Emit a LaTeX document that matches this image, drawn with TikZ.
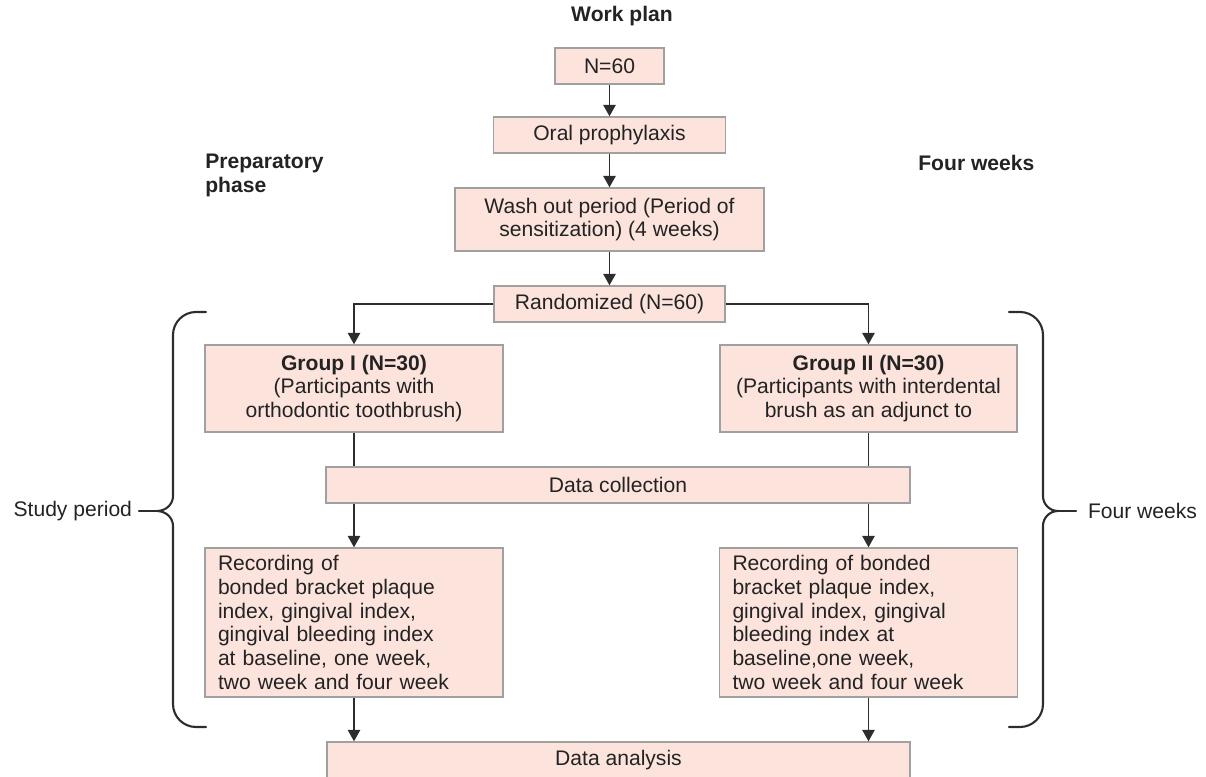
\documentclass[tikz,border=0pt]{standalone}
\usepackage{fontspec}
\setmainfont{Liberation Sans}
\usepackage{tikz}
\usetikzlibrary{arrows.meta, positioning, calc}
\usepackage{xcolor}
\definecolor{BoxFill}{RGB}{252,228,221}
\definecolor{BoxLine}{RGB}{160,160,160}
\definecolor{LineGray}{RGB}{45,45,45}
\definecolor{TextGray}{RGB}{35,35,35}

\begin{document}
\begin{tikzpicture}[
  font=\fontsize{12}{13.6}\selectfont, text=TextGray,
  box/.style={draw=BoxLine, line width=0.8pt, fill=BoxFill, align=center, inner sep=0pt, minimum height=0.72cm},
  recbox/.style={draw=BoxLine, line width=0.8pt, fill=BoxFill, align=left, inner xsep=0.26cm, inner ysep=0.05cm, text width=5.44cm, minimum height=2.98cm},
  head/.style={font=\fontsize{12}{13.6}\selectfont\bfseries, align=left, inner sep=0pt},
  arr/.style={-{Triangle[length=2.3mm, width=2.5mm]}, line width=0.8pt, draw=LineGray},
  conn/.style={line width=0.8pt, draw=LineGray},
  brace/.style={line width=1.2pt, draw=LineGray, line cap=round}
]
  \useasboundingbox (0,0) rectangle (24.12,-15.52);

  % Headings
  \node[head] (title) at (12.44, -0.32) {Work plan};
  \node[head, anchor=west] (prep) at (4.1, -3.5) {Preparatory\\phase};
  \node[head, anchor=west] (fourtop) at (18.36, -3.26) {Four weeks};

  % Preparatory chain (centre column)
  \node[box, minimum width=2.18cm] (n60) at (12.19, -1.32) {N=60};
  \node[box, minimum width=4.64cm] (oral) at (12.19, -2.70) {Oral prophylaxis};
  \node[box, minimum width=6.18cm, minimum height=1.26cm] (wash) at (12.19, -4.39) {Wash out period (Period of\\sensitization) (4 weeks)};
  \node[box, minimum width=4.62cm] (rand) at (12.19, -6.08) {Randomized (N=60)};

  % Groups
  \node[box, minimum width=5.96cm, minimum height=1.74cm] (g1) at (7.08, -7.77) {\textbf{Group I (N=30)}\\(Participants with\\orthodontic toothbrush)};
  \node[box, minimum width=5.94cm, minimum height=1.74cm] (g2) at (17.37, -7.77) {\textbf{Group II (N=30)}\\(Participants with interdental\\brush as an adjunct to};

  \node[box, minimum width=11.68cm] (dcol) at (12.36, -9.70) {Data collection};

  % Recording
  \node[recbox] (rec1) at (7.08, -12.45) {Recording of\\bonded bracket plaque\\index, gingival index,\\gingival bleeding index\\at baseline, one week,\\two week and four week};
  \node[recbox] (rec2) at (17.37, -12.45) {Recording of bonded\\bracket plaque index,\\gingival index, gingival\\bleeding index at\\baseline,one week,\\two week and four week};

  \node[box, minimum width=11.66cm] (dana) at (12.37, -15.20) {Data analysis};

  \draw[arr] (n60) -- (oral);
  \draw[arr] (oral) -- (wash);
  \draw[arr] (wash) -- (rand);
  \draw[arr] (rand.west) -| (g1.north);
  \draw[arr] (rand.east) -| (g2.north);
  \draw[conn] (g1.south) -- (g1.south |- dcol.north);
  \draw[conn] (g2.south) -- (g2.south |- dcol.north);
  \draw[arr] (rec1.north |- dcol.south) -- (rec1.north);
  \draw[arr] (rec2.north |- dcol.south) -- (rec2.north);
  \draw[arr] (rec1.south) -- (rec1.south |- dana.north);
  \draw[arr] (rec2.south) -- (rec2.south |- dana.north);

  % Braces
  \coordinate (ltip) at (3.14, -10.22);
  \coordinate (rtip) at (21.16, -10.22);
  \draw[brace] (4.12,-6.24) -- (3.92,-6.24) to[out=180, in=90] (3.46,-6.70) -- (3.46,-9.92)
    to[out=-90, in=0] (ltip) to[out=0, in=90] (3.46,-10.52) -- (3.46,-14.08)
    to[out=-90, in=180] (3.92,-14.54) -- (4.12,-14.54);
  \draw[brace] (20.18,-6.24) -- (20.40,-6.24) to[out=0, in=90] (20.86,-6.70) -- (20.86,-9.92)
    to[out=-90, in=180] (rtip) to[out=180, in=90] (20.86,-10.52) -- (20.86,-14.08)
    to[out=-90, in=0] (20.40,-14.54) -- (20.18,-14.54);

  \node[anchor=east, inner sep=0pt, outer sep=0.14cm] (study) at (2.78, -10.22) {Study period};
  \node[anchor=west, inner sep=0pt, outer sep=0.24cm] (fourside) at (21.52, -10.22) {Four weeks};
  \draw[brace] (ltip) -- (study);
  \draw[brace] (rtip) -- (fourside);
\end{tikzpicture}
\end{document}
